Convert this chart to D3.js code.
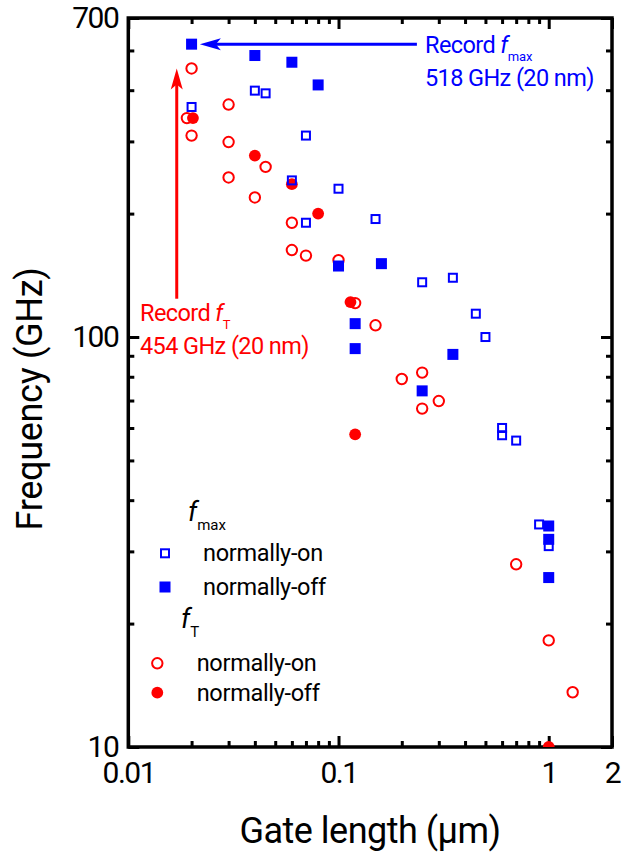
<!DOCTYPE html>
<html>
<head>
<meta charset="utf-8">
<script src="https://cdn.jsdelivr.net/npm/d3@7"></script>
<style>
body { margin: 0; background: #fff; }
text { font-family: Roboto, "Open Sans", sans-serif; }
</style>
</head>
<body>
<svg id="chart" width="626" height="857"></svg>
<script>
// gate length (um) vs frequency (GHz)
const fmaxOn = [[0.02,364],[0.04,399],[0.045,393],[0.07,310],[0.06,241],[0.07,190],[0.1,230],[0.15,194],[0.25,136],[0.35,139.5],[0.45,114],[0.5,100],[0.6,60],[0.6,57.6],[0.7,55.9],[0.9,34.9],[1.0,30.9]];
const fmaxOff = [[0.02,518],[0.04,486],[0.06,468],[0.08,412],[0.1,149],[0.16,151],[0.12,107.8],[0.12,93.7],[0.35,90.7],[0.25,73.9],[1.0,34.6],[1.0,32.1],[1.0,25.9]];
const ftOn = [[0.02,452],[0.03,369],[0.019,342],[0.02,310],[0.03,299],[0.045,260],[0.03,245],[0.04,219],[0.06,190],[0.06,163],[0.07,158],[0.1,154],[0.12,121],[0.15,106.8],[0.2,79],[0.25,81.9],[0.3,69.8],[0.25,66.9],[0.7,27.9],[1.0,18.2],[1.3,13.6]];
const ftOff = [[0.0203,342],[0.04,277],[0.06,236],[0.08,200],[0.114,121.7],[0.12,57.9],[1.0,10]];

const xTickValues = [0.01, 0.1, 1, 2];
const xTickLabels = ["0.01", "0.1", "1", "2"];
const xMinor = [0.02,0.03,0.04,0.05,0.06,0.07,0.08,0.09,0.2,0.3,0.4,0.5,0.6,0.7,0.8,0.9];
const yTickValues = [10, 100, 600];
const yTickLabels = ["10", "100", "700"];
const yMinor = [20,30,40,50,60,70,80,90,200,300,400,500];

const blue = "#0000ff", red = "#ff0000";
const pLeft = 128.3, pRight = 612, pTop = 18, pBottom = 747;

const svg = d3.select("#chart");
const x = d3.scaleLog().domain([0.01, 2]).range([pLeft, pRight]);
const y = d3.scaleLog().domain([10, 600]).range([pBottom, pTop]);

svg.append("defs").append("clipPath").attr("id", "plotclip")
   .append("rect").attr("x", pLeft).attr("y", 0).attr("width", pRight - pLeft + 10).attr("height", pBottom);

function styleAxis(g) {
  g.select(".domain").remove();
  g.selectAll(".tick line").attr("stroke", "#000").attr("stroke-width", 3);
  g.selectAll(".tick text").attr("fill", "#000").style("font-size", "30px").style("letter-spacing", "-1.5px");
}

// bottom
svg.append("g").attr("transform", `translate(0,${pBottom})`)
   .call(d3.axisBottom(x).tickValues(xTickValues).tickFormat((d, i) => xTickLabels[i]).tickSize(-11).tickPadding(15))
   .call(styleAxis);
svg.append("g").attr("transform", `translate(0,${pBottom})`)
   .call(d3.axisBottom(x).tickValues(xMinor).tickFormat("").tickSize(-6)).call(styleAxis);
// top
svg.append("g").attr("transform", `translate(0,${pTop})`)
   .call(d3.axisTop(x).tickValues(xTickValues).tickFormat("").tickSize(-11)).call(styleAxis);
svg.append("g").attr("transform", `translate(0,${pTop})`)
   .call(d3.axisTop(x).tickValues(xMinor).tickFormat("").tickSize(-6)).call(styleAxis);
// left
svg.append("g").attr("transform", `translate(${pLeft},0)`)
   .call(d3.axisLeft(y).tickValues(yTickValues).tickFormat((d, i) => yTickLabels[i]).tickSize(-11).tickPadding(10))
   .call(styleAxis);
svg.append("g").attr("transform", `translate(${pLeft},0)`)
   .call(d3.axisLeft(y).tickValues(yMinor).tickFormat("").tickSize(-6)).call(styleAxis);
// right
svg.append("g").attr("transform", `translate(${pRight},0)`)
   .call(d3.axisRight(y).tickValues(yTickValues).tickFormat("").tickSize(-11)).call(styleAxis);
svg.append("g").attr("transform", `translate(${pRight},0)`)
   .call(d3.axisRight(y).tickValues(yMinor).tickFormat("").tickSize(-6)).call(styleAxis);

// frame
svg.append("rect").attr("x", pLeft).attr("y", pTop).attr("width", pRight - pLeft).attr("height", pBottom - pTop)
   .attr("fill", "none").attr("stroke", "#000").attr("stroke-width", 3.5);

// axis titles
svg.append("text").attr("x", 370).attr("y", 843).attr("text-anchor", "middle")
   .style("font-size", "36px").style("letter-spacing", "-0.5px").text("Gate length (μm)");
svg.append("text").attr("transform", "rotate(-90)").attr("x", -399).attr("y", 42).attr("text-anchor", "middle")
   .style("font-size", "36px").style("letter-spacing", "-0.3px").text("Frequency (GHz)");

// points
const plot = svg.append("g").attr("clip-path", "url(#plotclip)");
plot.selectAll(".fton").data(ftOn).enter().append("circle")
   .attr("cx", d => x(d[0])).attr("cy", d => y(d[1])).attr("r", 5.2)
   .attr("fill", "none").attr("stroke", red).attr("stroke-width", 2);
plot.selectAll(".ftoff").data(ftOff).enter().append("circle")
   .attr("cx", d => x(d[0])).attr("cy", d => y(d[1])).attr("r", 5.9)
   .attr("fill", red);
plot.selectAll(".fmaxon").data(fmaxOn).enter().append("rect")
   .attr("x", d => x(d[0]) - 4).attr("y", d => y(d[1]) - 4).attr("width", 8).attr("height", 8)
   .attr("fill", "none").attr("stroke", blue).attr("stroke-width", 2);
plot.selectAll(".fmaxoff").data(fmaxOff).enter().append("rect")
   .attr("x", d => x(d[0]) - 5.5).attr("y", d => y(d[1]) - 5.5).attr("width", 11).attr("height", 11)
   .attr("fill", blue);

// record annotations
const bx0 = x(0.236), bx1 = x(0.0219), by = y(518);
svg.append("line").attr("x1", bx0).attr("x2", bx1 + 15).attr("y1", by).attr("y2", by)
   .attr("stroke", blue).attr("stroke-width", 3);
svg.append("path").attr("d", `M${bx1},${by} L${bx1 + 21},${by - 6} L${bx1 + 16},${by} L${bx1 + 21},${by + 6} Z`).attr("fill", blue);

const rx = x(0.017), ry0 = y(124), ry1 = y(452);
svg.append("line").attr("x1", rx).attr("x2", rx).attr("y1", ry0).attr("y2", ry1 + 15)
   .attr("stroke", red).attr("stroke-width", 3);
svg.append("path").attr("d", `M${rx},${ry1} L${rx - 6},${ry1 + 21} L${rx},${ry1 + 16} L${rx + 6},${ry1 + 21} Z`).attr("fill", red);

function recordLabel(tx, ty, color, sub, line2) {
  const t = svg.append("text").attr("x", tx).attr("y", ty).attr("fill", color)
     .style("font-size", "23.5px").style("letter-spacing", "-0.6px");
  t.append("tspan").text("Record ");
  t.append("tspan").style("font-style", "italic").text("f");
  t.append("tspan").attr("dy", 8).style("font-size", "13px").style("letter-spacing", "0px").text(sub);
  svg.append("text").attr("x", tx).attr("y", ty + 33).attr("fill", color)
     .style("font-size", "23.5px").style("letter-spacing", "-0.6px").text(line2);
}
recordLabel(425, 53, blue, "max", "518 GHz (20 nm)");
recordLabel(140, 321, red, "T", "454 GHz (20 nm)");

// legend
const legend = svg.append("g");
function legendHead(lx, ly, sub) {
  const t = legend.append("text").attr("x", lx).attr("y", ly).style("font-size", "27px");
  t.append("tspan").style("font-style", "italic").text("f");
  t.append("tspan").attr("dy", 9).style("font-size", "15px").text(sub);
}
function legendText(lx, ly, s) {
  legend.append("text").attr("x", lx).attr("y", ly).attr("dy", "0.35em")
     .style("font-size", "23.5px").style("letter-spacing", "-0.3px").text(s);
}
legendHead(188, 521, "max");
legend.append("rect").attr("x", 161).attr("y", 549.3).attr("width", 8).attr("height", 8)
   .attr("fill", "none").attr("stroke", blue).attr("stroke-width", 2);
legendText(203, 553, "normally-on");
legend.append("rect").attr("x", 159.5).attr("y", 581.5).attr("width", 11).attr("height", 11).attr("fill", blue);
legendText(203, 587, "normally-off");
legendHead(181, 628, "T");
legend.append("circle").attr("cx", 157.3).attr("cy", 663.3).attr("r", 5.2)
   .attr("fill", "none").attr("stroke", red).attr("stroke-width", 2);
legendText(196.7, 663, "normally-on");
legend.append("circle").attr("cx", 157.3).attr("cy", 692.7).attr("r", 5.9).attr("fill", red);
legendText(196.7, 693, "normally-off");
</script>
</body>
</html>
